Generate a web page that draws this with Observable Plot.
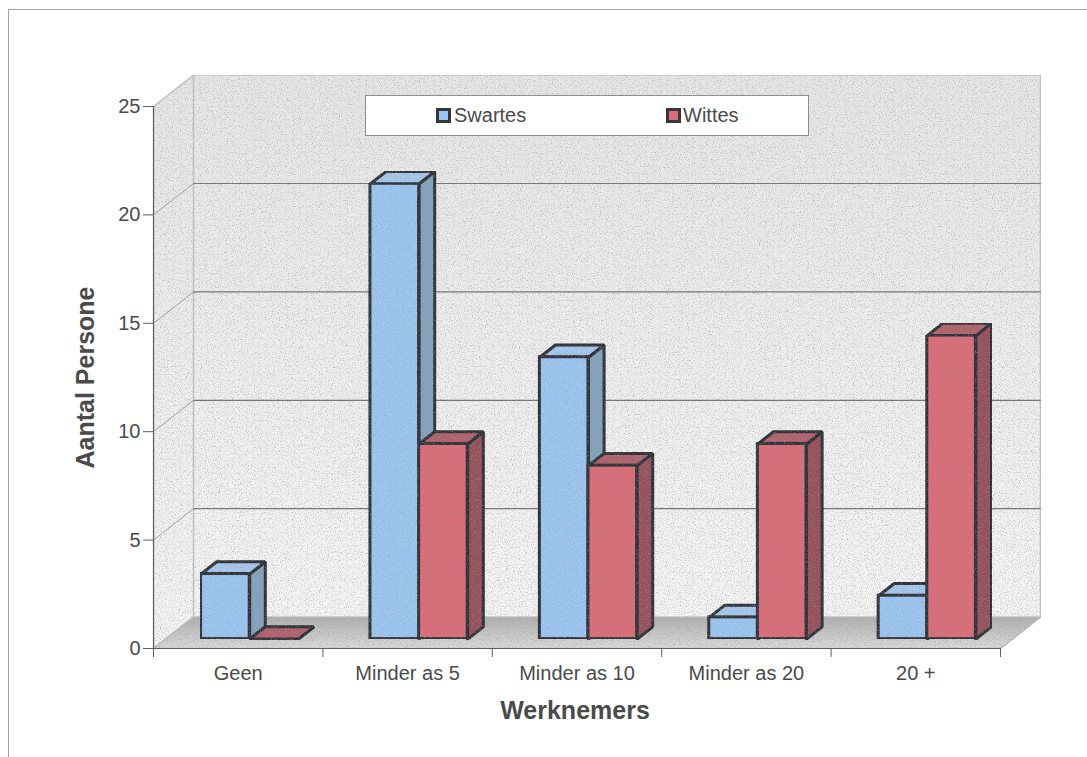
<!DOCTYPE html>
<html>
<head>
<meta charset="utf-8">
<script src="https://cdn.jsdelivr.net/npm/d3@7"></script>
<script src="https://cdn.jsdelivr.net/npm/@observablehq/plot@0.6"></script>
<style>
  html, body { margin: 0; padding: 0; background: #fff; }
  #page { position: relative; width: 1087px; height: 757px; overflow: hidden; font-family: "Liberation Sans", Arial, sans-serif; color: #4a4a4c; }
  #page svg { display: block; position: absolute; left: 0; top: 0; background: transparent; }
  #sheet { position: absolute; left: 8px; top: 9px; right: 0; bottom: 0; border-left: 1px solid #a9a2a4; border-top: 1px solid #a3a3a3; }
  #legend { position: absolute; left: 365px; top: 95px; width: 442px; height: 39px; background: #fff; border: 1px solid #8e8e90; font-size: 20px; line-height: 39px; }
  #legend span { position: absolute; top: 0; }
  #legend i { position: absolute; top: 12px; width: 9px; height: 9px; border: 3px solid #33363c; }
</style>
</head>
<body>
<div id="page">
  <div id="sheet"></div>
  <div id="chart"></div>
  <div id="legend">
    <i style="left:70px;background:#9cc6f2"></i><span style="left:88px">Swartes</span>
    <i style="left:300px;background:#da6c78"></i><span style="left:317px">Wittes</span>
  </div>
</div>
<script>
// Employee-size categories and head counts per group
const categories = ["Geen", "Minder as 5", "Minder as 10", "Minder as 20", "20 +"];
const swartes = [3, 21, 13, 1, 2];
const wittes = [0, 9, 8, 9, 14];
const yTicks = [0, 5, 10, 15, 20, 25];

// Oblique projection: how far the back of the box shifts, in scale units
const depthX = 40 / 169.4;
const depthY = 31.4 / 21.68;
const yMax = 25;
const barFront = 0.3;   // depth of a bar's front face inside the box
const barBack = 0.69;   // depth of a bar's back face
const barWidth = 0.287;
const swartesStart = 0.21;
const wittesStart = swartesStart + barWidth;

const pt = (u, v, w) => ({x: u + w * depthX, y: v + w * depthY});
const poly = (id, corners) =>
  [...corners, corners[0]].map(([u, v, w]) => ({id, ...pt(u, v, w)}));

// Parallelograms for the visible faces of one series of bars
function sideFaces(values, u0) {
  return values.flatMap((v, i) => poly(`s${i}`, [
    [i + u0 + barWidth, 0, barFront], [i + u0 + barWidth, 0, barBack],
    [i + u0 + barWidth, v, barBack], [i + u0 + barWidth, v, barFront]
  ]));
}
function topFaces(values, u0) {
  return values.flatMap((v, i) => poly(`t${i}`, [
    [i + u0, v, barFront], [i + u0 + barWidth, v, barFront],
    [i + u0 + barWidth, v, barBack], [i + u0, v, barBack]
  ]));
}
function frontFaces(values, u0) {
  return values.map((v, i) => {
    const a = pt(i + u0, 0, barFront), b = pt(i + u0 + barWidth, v, barFront);
    return {x1: a.x, x2: b.x, y1: a.y, y2: b.y};
  });
}

// Applies the shared speckle filter to everything a mark draws
const grainy = (index, scales, values, dims, context, next) => {
  const g = next(index, scales, values, dims, context);
  g.setAttribute("filter", "url(#grain)");
  return g;
};

const outline = {stroke: "#2e3138", strokeWidth: 3, strokeLinejoin: "miter"};
const face = (data, fill) =>
  Plot.line(data, {x: "x", y: "y", z: "id", fill, ...outline, render: grainy});

function bars(values, u0, colors) {
  return [
    face(sideFaces(values, u0), colors.side),
    face(topFaces(values, u0), colors.top),
    Plot.rect(frontFaces(values, u0), {x1: "x1", x2: "x2", y1: "y1", y2: "y2", fill: colors.front, ...outline, render: grainy})
  ];
}

// The box the bars stand in: left wall, back wall and floor
const leftWall = poly("left", [[0, 0, 0], [0, yMax, 0], [0, yMax, 1], [0, 0, 1]]);
const backWall = poly("back", [[0, 0, 1], [0, yMax, 1], [5, yMax, 1], [5, 0, 1]]);
const floor = poly("floor", [[0, 0, 0], [0, 0, 1], [5, 0, 1], [5, 0, 0]]);
const backGrid = yTicks.slice(1, -1).flatMap(v => [
  {id: v, ...pt(0, v, 1)}, {id: v, ...pt(5, v, 1)}
]);
const leftGrid = yTicks.slice(1, -1).flatMap(v => [
  {id: v, ...pt(0, v, 0)}, {id: v, ...pt(0, v, 1)}
]);

// Gradients and paper grain shared by the box faces
function defs() {
  const ns = "http://www.w3.org/2000/svg";
  const g = document.createElementNS(ns, "defs");
  g.innerHTML = `
    <linearGradient id="wall" x1="0" y1="0" x2="0" y2="1">
      <stop offset="0" stop-color="#e6e6e6"/><stop offset="1" stop-color="#f4f4f4"/>
    </linearGradient>
    <linearGradient id="floorShade" x1="0" y1="0" x2="0" y2="1">
      <stop offset="0" stop-color="#b0b0b0"/><stop offset="1" stop-color="#dadada"/>
    </linearGradient>
    <filter id="grain" x="0" y="0" width="100%" height="100%" filterUnits="objectBoundingBox" color-interpolation-filters="sRGB">
      <feTurbulence type="fractalNoise" baseFrequency="0.85" numOctaves="2" seed="4" result="n"/>
      <feColorMatrix in="n" type="matrix" values="0 0 0 0 0.6  0 0 0 0 0.6  0 0 0 0 0.6  1.2 1.2 0 0 -1.2" result="speck"/>
      <feComposite in="speck" in2="SourceAlpha" operator="in" result="clipped"/>
      <feMerge><feMergeNode in="SourceGraphic"/><feMergeNode in="clipped"/></feMerge>
    </filter>`;
  return g;
}

const chart = Plot.plot({
  width: 1087,
  height: 757,
  marginLeft: 153, marginRight: 87, marginTop: 106, marginBottom: 109,
  style: {background: "transparent", fontFamily: "'Liberation Sans', Arial, sans-serif", color: "#4a4a4c", overflow: "visible"},
  x: {domain: [0, 5]},
  y: {domain: [0, yMax]},
  marks: [
    defs,
    Plot.line(leftWall, {x: "x", y: "y", z: "id", fill: "url(#wall)", stroke: "#c4c4c4", render: grainy}),
    Plot.line(backWall, {x: "x", y: "y", z: "id", fill: "url(#wall)", stroke: "#c4c4c4", render: grainy}),
    Plot.line(floor, {x: "x", y: "y", z: "id", fill: "url(#floorShade)", stroke: "#bdbdbd", render: grainy}),
    Plot.line(backGrid, {x: "x", y: "y", z: "id", stroke: "#77777a", strokeWidth: 1.2}),
    Plot.line(leftGrid, {x: "x", y: "y", z: "id", stroke: "#a0a0a2", strokeWidth: 1}),
    ...bars(swartes, swartesStart, {front: "#9cc6f2", side: "#84a2bc", top: "#a6c8ec"}),
    ...bars(wittes, wittesStart, {front: "#da6c78", side: "#96505c", top: "#b0626c"}),
    Plot.ruleX([0], {y1: 0, y2: yMax, stroke: "#5f5f62", strokeWidth: 1.2}),
    Plot.ruleY([0], {x1: 0, x2: 5, stroke: "#5f5f62", strokeWidth: 1.2}),
    Plot.axisY({
      ticks: yTicks, tickSize: 10, tickPadding: 3, fontSize: 20, label: null,
      stroke: "#5f5f62", fill: "#4a4a4c"
    }),
    Plot.axisX(d3.range(6), {
      tickSize: 9, label: null, fill: "none", stroke: "#5f5f62"
    }),
    Plot.text(categories, {
      x: (d, i) => i + 0.5, y: 0, text: d => d, dy: 25, dx: 0,
      fontSize: 20, fill: "#4a4a4c"
    }),
    Plot.text(["Werknemers"], {
      x: 2.5, y: 0, text: d => d, dy: 62, dx: -2,
      fontSize: 25, fontWeight: "bold", fill: "#4a4a4c"
    }),
    Plot.text(["Aantal Persone"], {
      x: 0, y: 12.5, text: d => d, dx: -68, rotate: -90,
      fontSize: 25, fontWeight: "bold", fill: "#4a4a4c"
    })
  ]
});
document.getElementById("chart").append(chart);
</script>
</body>
</html>
